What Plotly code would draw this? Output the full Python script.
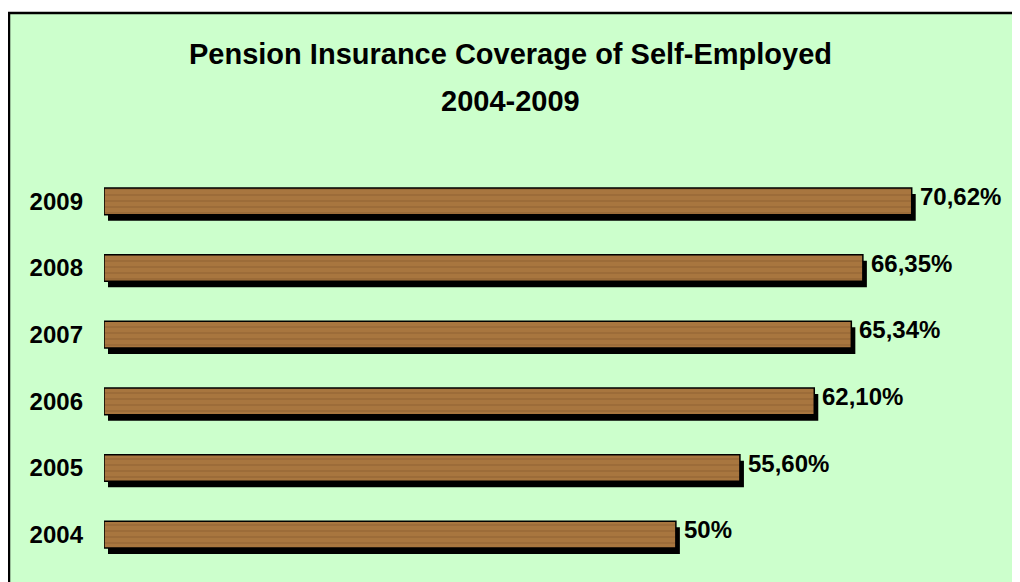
import plotly.graph_objects as go

years = ["2004", "2005", "2006", "2007", "2008", "2009"]
coverage = [50.0, 55.60, 62.10, 65.34, 66.35, 70.62]
value_labels = ["50%", "55,60%", "62,10%", "65,34%", "66,35%", "70,62%"]
title_line1 = "Pension Insurance Coverage of Self-Employed"
title_line2 = "2004-2009"

FONT = "Liberation Sans, Arial, sans-serif"

# page adds an 8px body margin; figure covers the visible area after it
W, H = 1012, 574
L, R, T, B = 96, 1, 159.5, 13.5
PW, PH = W - L - R, H - T - B


def px(xs):
    return (xs - 8 - L) / PW


def py(ys):
    return (H - B - (ys - 8)) / PH


fig = go.Figure()

# shadow bars
fig.add_trace(go.Bar(
    x=coverage, y=years, orientation="h", base=0.35,
    width=0.40, offset=-0.29,
    marker=dict(color="black", line=dict(width=0)),
    hoverinfo="skip", showlegend=False,
))
# wood bars
fig.add_trace(go.Bar(
    x=coverage, y=years, orientation="h",
    width=0.40, offset=-0.20,
    marker=dict(
        color="#A2703D",
        line=dict(color="black", width=1.5),
        pattern=dict(shape="-", fgcolor="#6A4020", bgcolor="#A8763F",
                     size=6, solidity=0.15, fgopacity=0.45, fillmode="replace"),
    ),
    showlegend=False,
))

for i, (xv, lab) in enumerate(zip(coverage, value_labels)):
    fig.add_annotation(x=xv, y=i, xref="x", yref="y", text=lab, showarrow=False,
                       xanchor="left", yanchor="middle", xshift=6, yshift=5,
                       font=dict(family=FONT, size=24, color="black", weight="bold"))

# frame
fig.add_shape(type="rect", xref="paper", yref="paper",
              x0=(1 - L) / PW, x1=1.2, y0=-0.2, y1=py(12),
              line=dict(color="black", width=2.5), fillcolor="#CCFFCC", layer="below")

fig.add_annotation(xref="paper", yref="paper", x=px(510), y=py(53),
                   text=title_line1, showarrow=False, xanchor="center", yanchor="middle",
                   font=dict(family=FONT, size=29, color="black", weight="bold"))
fig.add_annotation(xref="paper", yref="paper", x=px(510), y=py(100),
                   text=title_line2, showarrow=False, xanchor="center", yanchor="middle",
                   font=dict(family=FONT, size=29, color="black", weight="bold"))

fig.update_layout(
    width=W, height=H,
    margin=dict(l=L, r=R, t=T, b=B),
    paper_bgcolor="white", plot_bgcolor="rgba(0,0,0,0)",
    barmode="overlay",
    xaxis=dict(range=[0, 80], visible=False, fixedrange=True),
    yaxis=dict(type="category", categoryorder="array", categoryarray=years,
               range=[-0.5, len(years) - 0.5], autorange=False,
               showgrid=False, zeroline=False, showline=False, ticks="",
               ticklabelstandoff=20,
               tickfont=dict(family=FONT, size=24, color="black", weight="bold")),
)

fig.write_html("out.html")
